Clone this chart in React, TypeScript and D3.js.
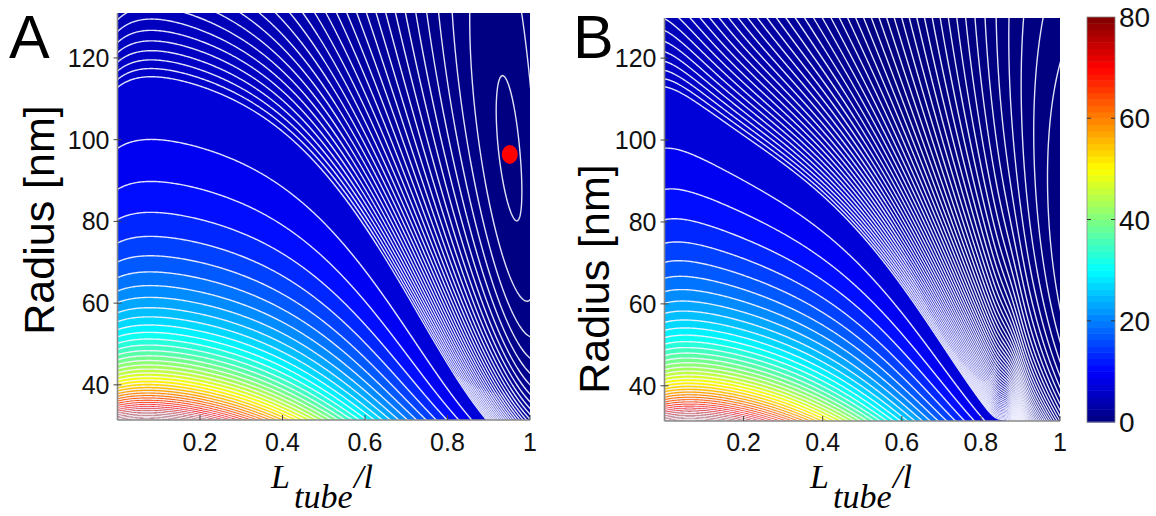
import React, { useMemo } from 'react';
import * as d3 from 'd3';

const WIDTH = 1156;
const HEIGHT = 516;

// ---- axes / ticks ----
const X_TICKS = [0.2, 0.4, 0.6, 0.8, 1];
const Y_TICKS = [40, 60, 80, 100, 120];
const CBAR_TICKS = [0, 20, 40, 60, 80];
const CBAR_DOMAIN = [0, 80];
const L_RANGE = [0, 1];
const R_RANGE_A = [31.4, 131.0];
const R_RANGE_B = [31.4, 129.8];

// ---- contour levels: [start, stop, step] ----
const COARSE_LEVELS = [8, 90, 2];
const FINE_LEVELS_A = [-1, 6, 0.2];
const FINE_LEVELS_B = [-6, 6, 0.2];

// ---- energy landscape model ----
// g(x) = c0 + (1-c0) * (1 + mu(1-exp(-x/tau))) * (softplus_w(xe - x)/xe)^p
// shape = [c0, mu, tau, xe, w, p]
const SHAPE_A = [0.02, 0.6, 0.2, 1.08, 0.01, 1.8];
const SHAPE_B = [0.02, 0.6, 0.2, 1.08, 0.01, 1.8];
// radius-dependent stretch of the length axis: xe = x - beta(R) x^2 (1-x)^2,
// beta(R) = beta0 (1 - exp(-(R - R0)/rho))
const STRETCH = [2.0, 25];
const R_REF = 31.5;
// f = K g(xe)/R^2 + s1 x^sExp R + alpha x^n - phi0 (1-exp(-x/lam)) + q + A4 (R0/R)^4 exp(-((x-c4)/w4)^2)
// terms = [K, s1, sExp, alpha, n, phi0, lam, q, A4, c4, w4]
const TERMS_A = [83575, 0.010456, 0, 0.7341, 12, 0, 0.35, -1.7486, 0, 0.9, 0.03];
const TERMS_B = [83575, 0.010456, 0, 0, 12, 3.5206, 0.35, -1.7267, 2.0, 0.875, 0.03];
const OPTIMUM_A = [0.951, 96.4];

const FONT = 'Liberation Sans, Arial, Helvetica, sans-serif';
const SERIF = 'Liberation Serif, Times New Roman, serif';

function expand([a, b, s]: number[]) {
  const n = Math.round((b - a) / s);
  return d3.range(n + 1).map((i) => +(a + i * s).toFixed(4));
}

function softplus(z: number) {
  return z > 30 ? z : Math.log1p(Math.exp(z));
}

function gShape(x: number, sh: number[]) {
  const [c0, mu, tau, xe, w, p] = sh;
  const u = w * softplus((xe - x) / w);
  const m = 1 + mu * (1 - Math.exp(-x / tau));
  return c0 + (1 - c0) * m * Math.pow(u / xe, p);
}

function field(x: number, R: number, sh: number[], t: number[]) {
  const [K, s1, sExp, alpha, n, phi0, lam, q, A4, c4, w4] = t;
  const [beta0, rho] = STRETCH;
  const beta = beta0 * Math.max(0, 1 - Math.exp(-(R - R_REF) / rho));
  const xe = x - beta * x * x * (1 - x) * (1 - x);
  const ax = Math.abs(x);
  const r4 = Math.pow(R_REF / R, 4);
  return (
    (K * gShape(xe, sh)) / (R * R) +
    s1 * Math.pow(ax, sExp) * R +
    alpha * Math.pow(ax, n) -
    phi0 * (1 - Math.exp(-x / lam)) +
    q +
    A4 * r4 * Math.exp(-Math.pow((x - c4) / w4, 2))
  );
}

function clamp(v: number, a = 0, b = 1) {
  return Math.max(a, Math.min(b, v));
}
function jet(t: number) {
  t = clamp(t);
  const r = clamp(1.5 - Math.abs(4 * t - 3));
  const g = clamp(1.5 - Math.abs(4 * t - 2));
  const b = clamp(1.5 - Math.abs(4 * t - 1));
  return d3.rgb(r * 255, g * 255, b * 255).formatHex();
}

type PanelCfg = {
  id: string;
  left: number;
  right: number;
  top: number;
  bottom: number;
  rRange: number[];
  shape: number[];
  terms: number[];
  fine: number[];
  optimum?: number[];
  letterX: number;
  ylabX: number;
  ylabY: number;
  xlabX: number;
};

const PANELS: PanelCfg[] = [
  {
    id: 'A', left: 117.5, right: 530, top: 13, bottom: 420, rRange: R_RANGE_A,
    shape: SHAPE_A, terms: TERMS_A, fine: FINE_LEVELS_A, optimum: OPTIMUM_A,
    letterX: 9, ylabX: 54, ylabY: 220, xlabX: 271,
  },
  {
    id: 'B', left: 664.5, right: 1060, top: 18, bottom: 421, rRange: R_RANGE_B,
    shape: SHAPE_B, terms: TERMS_B, fine: FINE_LEVELS_B,
    letterX: 573, ylabX: 609, ylabY: 279, xlabX: 810,
  },
];

function Panel({ p }: { p: PanelCfg }) {
  const xs = d3.scaleLinear().domain(L_RANGE).range([p.left, p.right]);
  const ys = d3.scaleLinear().domain(p.rRange).range([p.bottom, p.top]);
  const cmap = (v: number) => jet((v - CBAR_DOMAIN[0]) / (CBAR_DOMAIN[1] - CBAR_DOMAIN[0]));

  const { fills, lines } = useMemo(() => {
    const h = 1.25;
    const m = 3;
    const nx = Math.ceil((p.right - p.left) / h) + 2 * m + 1;
    const ny = Math.ceil((p.bottom - p.top) / h) + 2 * m + 1;
    const values = new Float64Array(nx * ny);
    for (let j = 0; j < ny; j++) {
      const R = ys.invert(p.top + (j - m) * h);
      for (let i = 0; i < nx; i++) {
        const x = xs.invert(p.left + (i - m) * h);
        values[j * nx + i] = field(x, R, p.shape, p.terms);
      }
    }
    const levels = Array.from(new Set([...expand(p.fine), ...expand(COARSE_LEVELS)])).sort((a, b) => a - b);
    const contours = d3.contours().size([nx, ny]).thresholds(levels)(values as any);
    const proj = d3.geoTransform({
      point(cx: number, cy: number) {
        (this as any).stream.point(p.left + (cx - 0.5 - m) * h, p.top + (cy - 0.5 - m) * h);
      },
    });
    const path = d3.geoPath(proj as any);
    const fills = contours.map((c, k) => {
      const next = k + 1 < levels.length ? levels[k + 1] : levels[k] + 2;
      return { d: path(c as any) || '', color: cmap((levels[k] + next) / 2) };
    });
    return { fills, lines: fills.map((f) => f.d) };
  }, [p.id]);

  const clipId = `clip-${p.id}`;
  return (
    <g>
      <defs>
        <clipPath id={clipId}>
          <rect x={p.left} y={p.top} width={p.right - p.left} height={p.bottom - p.top} />
        </clipPath>
      </defs>
      <g clipPath={`url(#${clipId})`}>
        <rect x={p.left} y={p.top} width={p.right - p.left} height={p.bottom - p.top} fill={cmap(-1)} />
        {fills.map((f, i) => (
          <path key={'f' + i} d={f.d} fill={f.color} stroke="none" />
        ))}
        {lines.map((d, i) => (
          <path key={'l' + i} d={d} fill="none" stroke="#f4f4ff" strokeWidth={1.4} strokeOpacity={0.92} />
        ))}
        {p.optimum && (
          <ellipse cx={xs(p.optimum[0])} cy={ys(p.optimum[1])} rx={8} ry={9.5} fill="#ff0000" />
        )}
      </g>
      {/* axes */}
      <line x1={p.left} x2={p.left} y1={p.top} y2={p.bottom} stroke="#8a8a8a" strokeWidth={1.6} />
      <line x1={p.left} x2={p.right} y1={p.bottom} y2={p.bottom} stroke="#8a8a8a" strokeWidth={1.6} />
      {X_TICKS.map((t) => (
        <g key={'xt' + t}>
          <line x1={xs(t)} x2={xs(t)} y1={p.bottom} y2={p.bottom - 5} stroke="#444" strokeWidth={1} />
          <text x={xs(t)} y={451} textAnchor="middle" fontFamily={FONT} fontSize={25} fill="#111">
            {String(t)}
          </text>
        </g>
      ))}
      {Y_TICKS.map((t) => (
        <g key={'yt' + t}>
          <line x1={p.left - 4} x2={p.left + 4} y1={ys(t)} y2={ys(t)} stroke="#444" strokeWidth={1} />
          <text x={p.left - 8} y={ys(t) + 9} textAnchor="end" fontFamily={FONT} fontSize={25} fill="#111">
            {String(t)}
          </text>
        </g>
      ))}
      <text x={p.letterX} y={58} fontFamily={FONT} fontSize={61} fill="#000">
        {p.id}
      </text>
      <text
        transform={`translate(${p.ylabX},${p.ylabY}) rotate(-90)`}
        textAnchor="middle"
        fontFamily={FONT}
        fontSize={43}
        fill="#000"
      >
        Radius [nm]
      </text>
      <text fontFamily={SERIF} fontStyle="italic" fontSize={34} fill="#000">
        <tspan x={p.xlabX} y={488}>L</tspan>
        <tspan x={p.xlabX + 23} y={508}>tube</tspan>
        <tspan x={p.xlabX + 83} y={488}>/l</tspan>
      </text>
    </g>
  );
}

function ColorBar() {
  const x0 = 1087;
  const x1 = 1115;
  const ys = d3.scaleLinear().domain(CBAR_DOMAIN).range([422, 17]);
  const n = 64;
  const step = (CBAR_DOMAIN[1] - CBAR_DOMAIN[0]) / n;
  const bands = d3.range(n).map((i) => CBAR_DOMAIN[0] + i * step);
  return (
    <g>
      {bands.map((v, i) => (
        <rect
          key={i}
          x={x0}
          width={x1 - x0}
          y={ys(v + step)}
          height={ys(v) - ys(v + step) + 0.5}
          fill={jet((v + step / 2 - CBAR_DOMAIN[0]) / (CBAR_DOMAIN[1] - CBAR_DOMAIN[0]))}
        />
      ))}
      <rect x={x0} y={17} width={x1 - x0} height={405} fill="none" stroke="#888" strokeWidth={0.8} />
      {CBAR_TICKS.map((t) => (
        <g key={t}>
          {t > CBAR_DOMAIN[0] && t < CBAR_DOMAIN[1] && (
            <>
              <line x1={x0} x2={x0 + 4} y1={ys(t)} y2={ys(t)} stroke="#333" />
              <line x1={x1 - 4} x2={x1} y1={ys(t)} y2={ys(t)} stroke="#333" />
            </>
          )}
          <text x={1119} y={ys(t) + 10} fontFamily={FONT} fontSize={28} fill="#111">
            {String(t)}
          </text>
        </g>
      ))}
    </g>
  );
}

export default function App() {
  return (
    <svg
      width={WIDTH}
      height={HEIGHT}
      viewBox={`0 0 ${WIDTH} ${HEIGHT}`}
      style={{ position: 'absolute', left: 0, top: 0, background: '#fff' }}
    >
      <rect width={WIDTH} height={HEIGHT} fill="#fff" />
      {PANELS.map((p) => (
        <Panel key={p.id} p={p} />
      ))}
      <ColorBar />
    </svg>
  );
}
